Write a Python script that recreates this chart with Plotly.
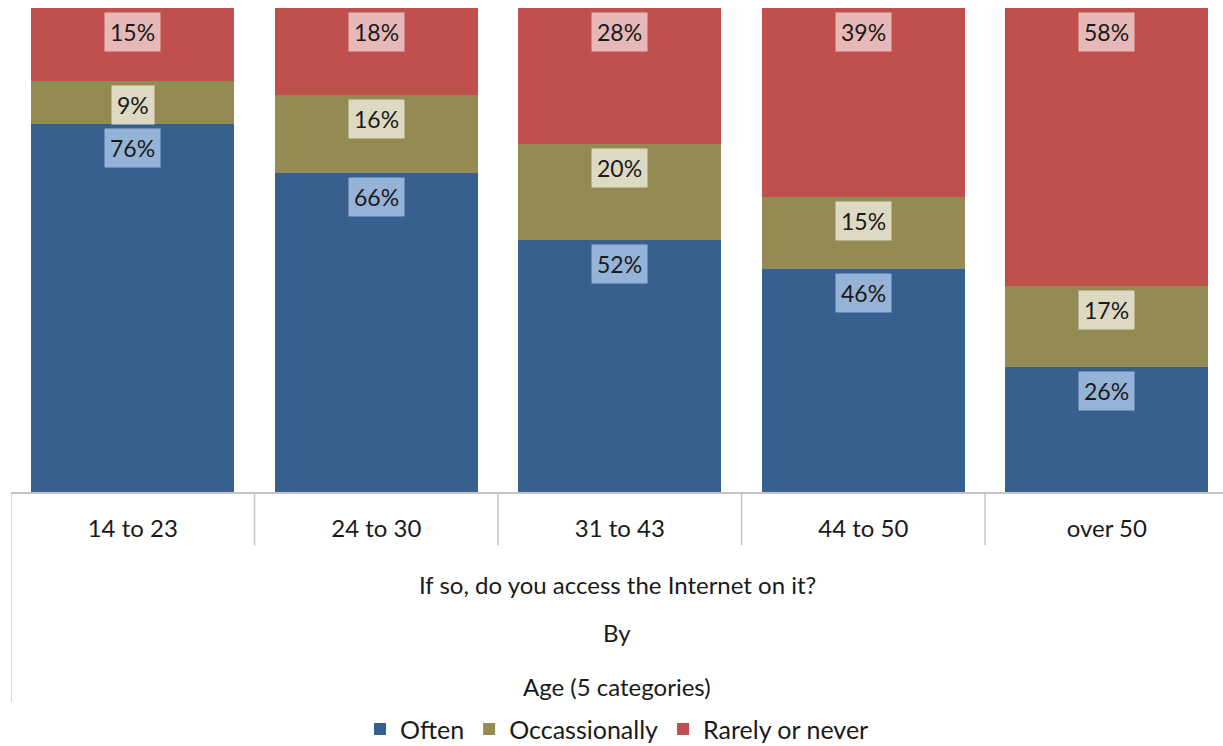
import plotly.graph_objects as go

# Survey: "If so, do you access the Internet on it?" by age group
age_groups = ["14 to 23", "24 to 30", "31 to 43", "44 to 50", "over 50"]
often = [76, 66, 52, 46, 26]
occasionally = [9, 16, 20, 15, 17]
rarely = [15, 18, 28, 39, 58]

series = [
    ("Often", often, "#37608F", "#95B3D7"),
    ("Occassionally", occasionally, "#948A54", "#DDD9C3"),
    ("Rarely or never", rarely, "#C0504D", "#E6B9B8"),
]

FONT = "Lato, 'Open Sans', sans-serif"
TXT = "#1a1a1a"

fig = go.Figure()
for name, vals, color, _ in series:
    fig.add_trace(go.Bar(
        x=age_groups, y=vals, name=name,
        marker=dict(color=color, line=dict(width=0)),
        hoverinfo="name+y",
    ))

# Data labels at the inside top of each segment (stack normalised to 100%)
totals = [sum(v) for v in zip(often, occasionally, rarely)]
cum = [0] * len(age_groups)
annotations = []
for name, vals, _, label_bg in series:
    for i, v in enumerate(vals):
        cum[i] += v
        annotations.append(dict(
            x=age_groups[i], y=cum[i] / totals[i] * 100,
            xref="x", yref="y", yanchor="top", yshift=-4,
            text=f"{v}%", showarrow=False,
            font=dict(family=FONT, size=23, color=TXT),
            bgcolor=label_bg, borderpad=5,
        ))

# Axis title lines below the category labels
for txt, yp in [("If so, do you access the Internet on it?", -0.192),
                ("By", -0.291),
                ("Age (5 categories)", -0.401)]:
    annotations.append(dict(
        x=0.5, y=yp, xref="paper", yref="paper", yanchor="middle",
        text=txt, showarrow=False,
        font=dict(family=FONT, size=24, color=TXT),
    ))

# Category boundary lines of the axis box
shapes = []
for k in range(len(age_groups)):
    shapes.append(dict(
        type="line", xref="x", yref="paper",
        x0=k - 0.5, x1=k - 0.5, y0=0, y1=-0.11 if k else -0.434,
        line=dict(color="#C4C4C4", width=1.5),
    ))

fig.update_layout(
    width=1223, height=746,
    margin=dict(l=11, r=0, t=8, b=254, autoexpand=False),
    barmode="stack", barnorm="percent", bargap=0.166,
    plot_bgcolor="white", paper_bgcolor="white",
    font=dict(family=FONT, size=24, color=TXT),
    xaxis=dict(
        range=[-0.5, 4.477], showgrid=False, zeroline=False,
        showline=True, linecolor="#C4C4C4", linewidth=1.5,
        ticks="", ticklabelstandoff=14, automargin=False,
        tickfont=dict(family=FONT, size=24, color=TXT),
    ),
    yaxis=dict(range=[0, 100], visible=False),
    legend=dict(
        orientation="h", x=0.5, xanchor="center", y=-0.49, yanchor="middle",
        font=dict(family=FONT, size=25, color=TXT),
        itemsizing="constant", traceorder="normal",
    ),
    annotations=annotations,
    shapes=shapes,
    showlegend=True,
)

fig.write_html("out.html")
